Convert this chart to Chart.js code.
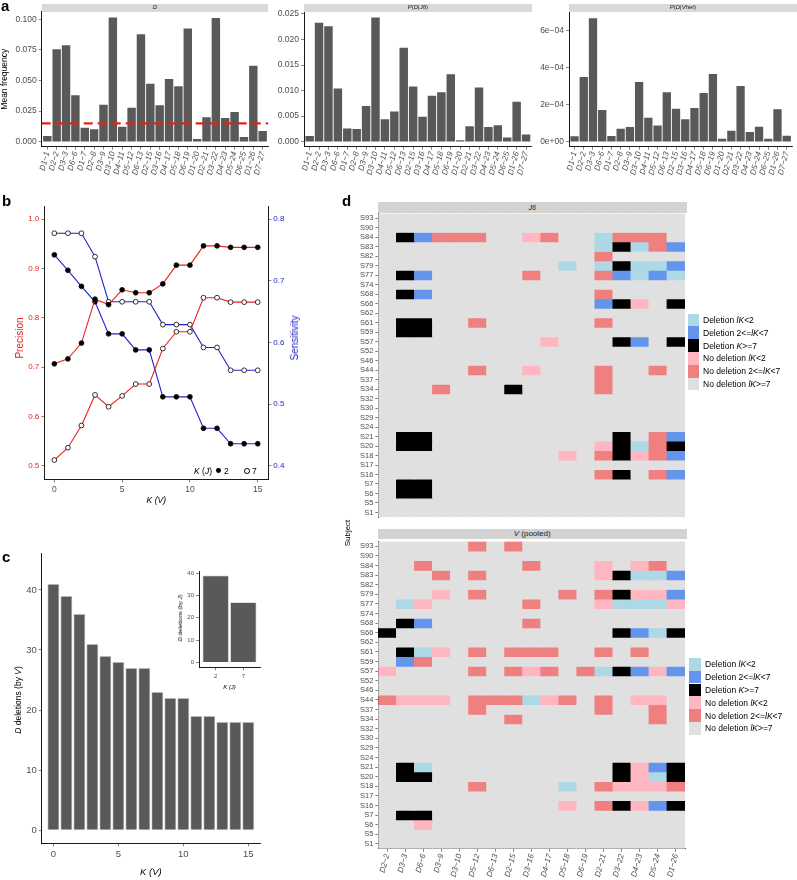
<!DOCTYPE html>
<html>
<head>
<meta charset="utf-8">
<script src="https://cdn.jsdelivr.net/npm/chart.js@4.4.1/dist/chart.umd.min.js"></script>
<style>
  body { margin: 0; width: 797px; height: 880px; position: relative; overflow: hidden; background: #fff;
         font-family: 'Liberation Sans', Arial, Helvetica, sans-serif; color: #000; }
  canvas { position: absolute; }
</style>
</head>
<body>
<script>
'use strict'

// ---- panel a: D gene usage ----
const dGenes = ['D1−1', 'D2−2', 'D3−3', 'D6−6', 'D1−7', 'D2−8', 'D3−9', 'D3−10', 'D4−11', 'D5−12', 'D6−13', 'D2−15',
  'D3−16', 'D4−17', 'D5−18', 'D6−19', 'D1−20', 'D2−21', 'D3−22', 'D4−23', 'D5−24', 'D6−25', 'D1−26', 'D7−27'];
const meanFreq = [0.0046, 0.0755, 0.0787, 0.0379, 0.0114, 0.0101, 0.0302, 0.1014, 0.0123, 0.0278, 0.0877, 0.0474,
  0.0297, 0.0512, 0.0452, 0.0924, 0.0022, 0.0199, 0.1011, 0.0193, 0.0243, 0.0038, 0.0620, 0.0087];
const pDJ6 = [0.0011, 0.0233, 0.0226, 0.0104, 0.0026, 0.0025, 0.0070, 0.0243, 0.0044, 0.0059, 0.0184, 0.0108,
  0.0049, 0.0090, 0.0097, 0.0132, 0.0003, 0.0030, 0.0106, 0.0029, 0.0032, 0.0008, 0.0078, 0.0014];
const pDVhet = [0.000029, 0.000350, 0.000668, 0.000171, 0.000031, 0.000070, 0.000079, 0.000323, 0.000130, 0.000088,
  0.000267, 0.000178, 0.000122, 0.000182, 0.000263, 0.000366, 0.000016, 0.000059, 0.000301, 0.000052, 0.000081,
  0.000016, 0.000175, 0.000032];
const freqCutoff = 0.015;
const freqTicks = [0, 0.025, 0.05, 0.075, 0.1];
const freqLabels = ['0.000', '0.025', '0.050', '0.075', '0.100'];
const j6Ticks = [0, 0.005, 0.01, 0.015, 0.02, 0.025];
const j6Labels = ['0.000', '0.005', '0.010', '0.015', '0.020', '0.025'];
const vhetTicks = [0, 0.0002, 0.0004, 0.0006];
const vhetLabels = ['0e+00', '2e−04', '4e−04', '6e−04'];

// ---- panel b: precision / sensitivity vs K(V) ----
const kV = [0, 1, 2, 3, 4, 5, 6, 7, 8, 9, 10, 11, 12, 13, 14, 15];
const precJ2 = [0.707, 0.717, 0.749, 0.838, 0.827, 0.857, 0.851, 0.851, 0.869, 0.907, 0.907, 0.946, 0.946, 0.943, 0.943, 0.943];
const precJ7 = [0.512, 0.537, 0.582, 0.644, 0.620, 0.642, 0.666, 0.666, 0.738, 0.772, 0.772, 0.841, 0.841, 0.832, 0.832, 0.832];
const sensJ2 = [0.742, 0.717, 0.691, 0.666, 0.614, 0.614, 0.588, 0.588, 0.512, 0.512, 0.512, 0.461, 0.461, 0.436, 0.436, 0.436];
const sensJ7 = [0.777, 0.777, 0.777, 0.739, 0.666, 0.666, 0.666, 0.666, 0.629, 0.629, 0.629, 0.592, 0.592, 0.555, 0.555, 0.555];
const kTicks = [0, 5, 10, 15];
const precTicks = [0.5, 0.6, 0.7, 0.8, 0.9, 1.0];
const sensTicks = [0.4, 0.5, 0.6, 0.7, 0.8];

// ---- panel c: deletions ----
const delByV = [41, 39, 36, 31, 29, 28, 27, 27, 23, 22, 22, 19, 19, 18, 18, 18];
const delTicks = [0, 10, 20, 30, 40];
const kJ = ['2', '7'];
const delByJ = [39, 27];

// ---- panel d: heatmaps ----
const subjects = ['S93', 'S90', 'S84', 'S83', 'S82', 'S79', 'S77', 'S74', 'S68', 'S66', 'S62', 'S61', 'S59', 'S57',
  'S52', 'S46', 'S44', 'S37', 'S34', 'S32', 'S30', 'S29', 'S24', 'S21', 'S20', 'S18', 'S17', 'S16', 'S7', 'S6', 'S5', 'S1'];
const heatGenes = ['D2−2', 'D3−3', 'D6−6', 'D3−9', 'D3−10', 'D5−12', 'D6−13', 'D2−15', 'D3−16', 'D4−17', 'D5−18',
  'D6−19', 'D2−21', 'D3−22', 'D4−23', 'D5−24', 'D1−26'];
// a = deletion lK<2, b = deletion 2<=lK<7, k = deletion K>=7, p = no del lK<2, c = no del 2<=lK<7, . = no del lK>=7
const j6Grid = [
  '.................', '.................', '.kbccc..pc..accc.', '............akacb', '............c....',
  '..........a.akaab', '.kb.....c...cbaba', '.................', '.kb.........c....', '............bkp.k',
  '.................', '.kk..c......c....', '.kk..............', '.........p...kb.k', '.................',
  '.................', '.....c..p...c..c.', '............c....', '...c...k....c....', '.................',
  '.................', '.................', '.................', '.kk..........k.cb', '.kk.........pkack',
  '..........p.ckpcb', '.................', '............ck.cb', '.kk..............', '.kk..............',
  '.................', '.................'];
const vGrid = [
  '.....c.c.........', '.................', '..c.....c...p.pc.', '...c.c......pkaab', '.................',
  '...p.c....c.ckppb', '.ap.....c...paaap', '.................', '.kb.....c........', 'k............kbak',
  '.................', '.kap.c.ccc..c.c..', '.bc..............', 'p....c.cpc.cakbpb', '.................',
  '.................', 'cppp.cccapc.c.pp.', '.....c......c..c.', '.......c.......c.', '.................',
  '.................', '.................', '.................', '.ka..........kpbk', '.kk..........kpak',
  '.....c....a.cpppc', '.................', '..........p.ckpbk', '.kk..............', '..p..............',
  '.................', '.................'];
const stateCodes = ['a', 'b', 'k', 'p', 'c', '.'];
const stateColors = ['#add8e6', '#6495ed', '#000000', '#ffb6c1', '#f08080', '#e0e0e0'];
const stateLabels = ['Deletion lK<2', 'Deletion 2<=lK<7', 'Deletion K>=7', 'No deletion lK<2',
  'No deletion 2<=lK<7', 'No deletion lK>=7'];

const FONT = "'Liberation Sans', Arial, Helvetica, sans-serif";
Chart.defaults.font.family = FONT;
Chart.defaults.color = '#4d4d4d';

function makeCanvas(left, top, w, h) {
  let c = document.createElement('canvas');
  c.width = w; c.height = h;
  c.style.left = left + 'px'; c.style.top = top + 'px';
  c.style.width = w + 'px'; c.style.height = h + 'px';
  document.body.appendChild(c);
  return c;
}

function addDiv(html, css) {
  let d = document.createElement('div');
  d.innerHTML = html;
  d.style.cssText = 'position:absolute;white-space:nowrap;' + css;
  document.body.appendChild(d);
  return d;
}

function rotatedTitle(html, x, y, size, color) {
  addDiv(html, `left:${x}px;top:${y}px;font-size:${size}px;color:${color || '#000'};` +
    'transform:translate(-50%,-50%) rotate(-90deg);line-height:1;');
}

const tickGrid = { display: true, drawOnChartArea: false, drawTicks: true, tickLength: 3, color: '#333', lineWidth: 0.6 };
const axisBorder = { display: true, color: '#000', width: 0.9 };
const basePlugins = { legend: { display: false }, tooltip: { enabled: false } };

// ---------- panel a ----------
function freqPanel(left, w, yWidth, padRight, values, yMin, yMax, yTicks, yLabels, title, cutoff) {
  let canvas = makeCanvas(left, 0, w, 195);
  let datasets = [{
    type: 'bar', order: 2,
    data: values.map((v, i) => ({ x: i, y: v })),
    backgroundColor: '#595959', borderWidth: 0,
    barPercentage: 0.9, categoryPercentage: 1
  }];
  if (cutoff) {
    datasets.push({
      type: 'line', order: 1,
      data: [{ x: -0.6, y: cutoff }, { x: dGenes.length - 0.4, y: cutoff }],
      borderColor: '#e3211c', borderWidth: 2.2, borderDash: [9, 5], pointRadius: 0
    });
  }
  new Chart(canvas, {
    type: 'bar',
    data: { datasets: datasets },
    options: {
      responsive: false, animation: false,
      layout: { padding: { top: 11.7, right: padRight, left: 0, bottom: 0 } },
      plugins: basePlugins,
      scales: {
        x: {
          type: 'linear', min: -0.6, max: dGenes.length - 0.4, offset: false,
          afterBuildTicks: s => { s.ticks = dGenes.map((g, i) => ({ value: i })); },
          afterFit: s => { s.height = 48.3; },
          ticks: { autoSkip: false, minRotation: 75, maxRotation: 75, padding: 1,
            callback: v => dGenes[v], font: { size: 8, style: 'italic' } },
          grid: Object.assign({}, tickGrid, { offset: false }), border: axisBorder
        },
        y: {
          min: yMin, max: yMax,
          afterBuildTicks: s => { s.ticks = yTicks.map(v => ({ value: v })); },
          afterFit: s => { s.width = yWidth; },
          ticks: { autoSkip: false, padding: 2, callback: (v, i) => yLabels[i], font: { size: 8.5 } },
          grid: tickGrid, border: axisBorder,
          title: { display: !!title, text: title, color: '#000', font: { size: 8.5 }, padding: { top: 0, bottom: 0 } }
        }
      }
    }
  });
}

freqPanel(0, 275, 41.7, 6.7, meanFreq, -0.0041, 0.1062, freqTicks, freqLabels, 'Mean frequency', freqCutoff);
freqPanel(275, 262, 29, 5.3, pDJ6, -0.00098, 0.02545, j6Ticks, j6Labels, '', null);
freqPanel(537, 260, 32, 0.3, pDVhet, -0.000027, 0.000703, vhetTicks, vhetLabels, '', null);

addDiv('<i>D</i>', 'left:41.7px;top:4px;width:226.6px;height:7.5px;background:#d9d9d9;text-align:center;font-size:6px;line-height:7.5px;color:#1a1a1a');
addDiv('<i>P</i>(<i>D</i>|<i>J6</i>)', 'left:304px;top:4px;width:227.7px;height:7.5px;background:#d9d9d9;text-align:center;font-size:6px;line-height:7.5px;color:#1a1a1a');
addDiv('<i>P</i>(<i>D</i>|<i>Vhet</i>)', 'left:569px;top:4px;width:227.7px;height:7.5px;background:#d9d9d9;text-align:center;font-size:6px;line-height:7.5px;color:#1a1a1a');

// ---------- panel b ----------
function series(values, axis, lineColor, fill) {
  return {
    data: kV.map((k, i) => ({ x: k, y: values[i] })),
    yAxisID: axis, borderColor: lineColor, borderWidth: 1.1,
    pointRadius: 2.4, pointBorderWidth: 0.8, pointBorderColor: '#000',
    pointBackgroundColor: fill, tension: 0
  };
}

new Chart(makeCanvas(0, 196, 310, 320), {
  type: 'line',
  data: {
    datasets: [
      series(precJ7, 'y', '#e8231e', '#fff'),
      series(precJ2, 'y', '#e8231e', '#000'),
      series(sensJ7, 'y2', '#2222cc', '#fff'),
      series(sensJ2, 'y2', '#2222cc', '#000')
    ]
  },
  options: {
    responsive: false, animation: false,
    layout: { padding: { top: 10.7, left: 0, right: 0, bottom: 0 } },
    plugins: basePlugins,
    scales: {
      x: {
        type: 'linear', min: -0.74, max: 15.78,
        afterBuildTicks: s => { s.ticks = kTicks.map(v => ({ value: v })); },
        afterFit: s => { s.height = 36.7; },
        ticks: { padding: 2, font: { size: 8.5 }, callback: v => String(v) },
        grid: tickGrid, border: axisBorder,
        title: { display: true, text: 'K (V)', color: '#000', font: { size: 8.5, style: 'italic' }, padding: { top: 0, bottom: 10 } }
      },
      y: {
        position: 'left', min: 0.473, max: 1.0254,
        afterBuildTicks: s => { s.ticks = precTicks.map(v => ({ value: v })); },
        afterFit: s => { s.width = 44.3; },
        ticks: { autoSkip: false, padding: 2, color: '#e8231e', font: { size: 8 }, callback: v => v.toFixed(1) },
        grid: tickGrid, border: axisBorder
      },
      y2: {
        position: 'right', min: 0.3784, max: 0.82,
        afterBuildTicks: s => { s.ticks = sensTicks.map(v => ({ value: v })); },
        afterFit: s => { s.width = 41.7; },
        ticks: { autoSkip: false, padding: 2, color: '#2222cc', font: { size: 8 }, callback: v => v.toFixed(1) },
        grid: tickGrid, border: axisBorder
      }
    }
  }
});
rotatedTitle('Precision', 20, 338, 10, '#e8231e');
rotatedTitle('Sensitivity', 295, 338, 10, '#2222cc');
addDiv('<i>K</i> (<i>J</i>)', 'left:194px;top:465.5px;font-size:8.5px;line-height:10px');
addDiv('', 'left:215.9px;top:468.3px;width:4.8px;height:4.8px;border-radius:50%;background:#000');
addDiv('2', 'left:224px;top:465.5px;font-size:8.5px;line-height:10px');
addDiv('', 'left:244.1px;top:468.1px;width:3.6px;height:3.6px;border-radius:50%;border:0.8px solid #000;background:#fff');
addDiv('7', 'left:252px;top:465.5px;font-size:8.5px;line-height:10px');

// ---------- panel c ----------
function barChart(canvas, xs, values, opts) {
  return new Chart(canvas, {
    type: 'bar',
    data: { datasets: [{
      data: xs.map((x, i) => ({ x: x, y: values[i] })),
      backgroundColor: '#595959', borderColor: '#c8c8c8', borderWidth: opts.bw,
      barPercentage: opts.bp, categoryPercentage: 1
    }] },
    options: {
      responsive: false, animation: false,
      layout: { padding: opts.pad },
      plugins: basePlugins,
      scales: {
        x: {
          type: 'linear', min: opts.xmin, max: opts.xmax, offset: false,
          afterBuildTicks: s => { s.ticks = opts.xTicks.map(v => ({ value: v })); },
          afterFit: s => { s.height = opts.xh; },
          ticks: { padding: 2, font: { size: opts.fs }, callback: opts.xLabel },
          grid: Object.assign({}, tickGrid, { offset: false }), border: axisBorder,
          title: { display: true, text: opts.xTitle, color: '#000', font: { size: opts.fs, style: 'italic' }, padding: { top: 0, bottom: opts.tpad } }
        },
        y: {
          min: opts.ymin, max: opts.ymax,
          afterBuildTicks: s => { s.ticks = delTicks.map(v => ({ value: v })); },
          afterFit: s => { s.width = opts.yw; },
          ticks: { autoSkip: false, padding: 2, font: { size: opts.fs }, callback: v => String(v) },
          grid: tickGrid, border: axisBorder
        }
      }
    }
  });
}

barChart(makeCanvas(0, 545, 270, 335), kV, delByV, {
  bw: 0.8, bp: 0.92, pad: { top: 8.3, right: 10, left: 0, bottom: 0 },
  xmin: -0.9, xmax: 15.9, xTicks: kTicks, xLabel: v => String(v), xh: 36.7, xTitle: 'K (V)', tpad: 2,
  ymin: -2.2, ymax: 46.1, yw: 41.7, fs: 9.5
});
rotatedTitle('<i>D</i> deletions (by <i>V</i>)', 18, 700, 8.5);

barChart(makeCanvas(160, 563, 105, 132), [0, 1], delByJ, {
  bw: 0.8, bp: 0.95, pad: { top: 8.7, right: 5, left: 0, bottom: 0 },
  xmin: -0.6, xmax: 1.6, xTicks: [0, 1], xLabel: v => kJ[v], xh: 27.7, xTitle: 'K (J)', tpad: 4,
  ymin: -2.25, ymax: 40.7, yw: 39, fs: 6
});
rotatedTitle('<i>D</i> deletions (by <i>J</i>)', 180, 618, 6);

// ---------- panel d ----------
function heatmap(top, h, grid, padTop, padBottom, showX) {
  let datasets = subjects.map((s, r) => ({
    label: s,
    data: heatGenes.map(() => [r - 0.5, r + 0.5]),
    backgroundColor: heatGenes.map((g, j) => stateColors[stateCodes.indexOf(grid[r][j])]),
    borderWidth: 0, barPercentage: 1, categoryPercentage: 1, grouped: false
  }));
  new Chart(makeCanvas(340, top, 350, h), {
    type: 'bar',
    data: { labels: heatGenes, datasets: datasets },
    options: {
      responsive: false, animation: false,
      layout: { padding: { top: padTop, right: 5, left: 0, bottom: showX ? 0 : padBottom } },
      plugins: basePlugins,
      scales: {
        x: {
          display: showX,
          afterFit: s => { s.height = padBottom; },
          ticks: { autoSkip: false, minRotation: 75, maxRotation: 75, padding: 1, font: { size: 8, style: 'italic' } },
          grid: Object.assign({}, tickGrid, { offset: false }), border: axisBorder
        },
        y: {
          reverse: true, min: -0.5, max: subjects.length - 0.5,
          afterBuildTicks: s => { s.ticks = subjects.map((x, i) => ({ value: i })); },
          afterFit: s => { s.width = 38.3; },
          ticks: { autoSkip: false, padding: 2, font: { size: 7.5 }, callback: v => subjects[v] },
          grid: tickGrid, border: axisBorder
        }
      }
    }
  });
}

heatmap(205, 322, j6Grid, 8.5, 4.9, false);
heatmap(535, 345, vGrid, 5.6, 31.2, true);

addDiv('<i>J6</i>', 'left:377.7px;top:201.7px;width:309px;height:11px;background:#d3d3d3;text-align:center;font-size:7px;line-height:11px;color:#1a1a1a');
addDiv('<i>V</i> (pooled)', 'left:377.7px;top:529.3px;width:309px;height:10px;background:#d3d3d3;text-align:center;font-size:8px;line-height:10px;color:#1a1a1a');
rotatedTitle('Subject', 348, 533, 8);

function heatLegend(firstY, swLeft, swW, textLeft) {
  stateLabels.forEach((lab, i) => {
    let y = firstY + 12.8 * i;
    addDiv('', `left:${swLeft}px;top:${y - 6.4}px;width:${swW}px;height:12.8px;background:${stateColors[i]}`);
    addDiv(lab.replace(/(l?K)/, '<i>$1</i>'), `left:${textLeft}px;top:${y - 5}px;font-size:8.5px;line-height:10px;color:#000`);
  });
}
heatLegend(320, 688.3, 10.5, 703);
heatLegend(664.3, 689.3, 12, 705);

addDiv('a', 'left:1px;top:-3px;font-weight:bold;font-size:15px');
addDiv('b', 'left:2px;top:192px;font-weight:bold;font-size:15px');
addDiv('c', 'left:2px;top:548px;font-weight:bold;font-size:15px');
addDiv('d', 'left:342px;top:192px;font-weight:bold;font-size:15px');
</script>
</body>
</html>
